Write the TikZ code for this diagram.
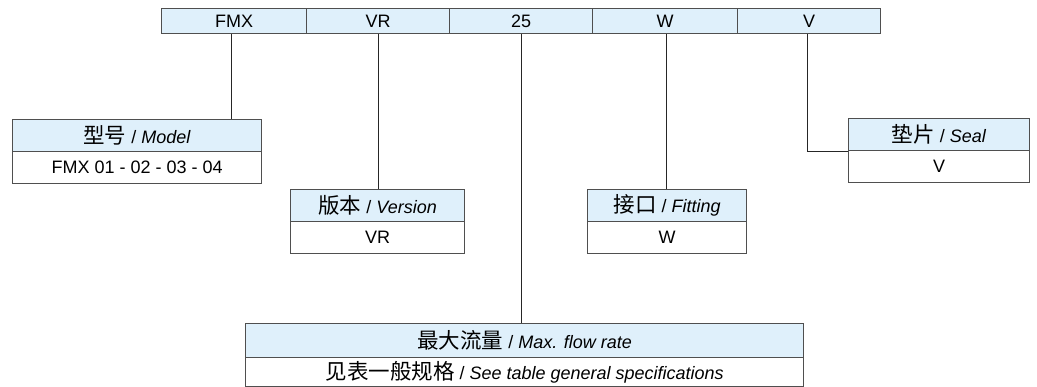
\documentclass[tikz,border=0pt]{standalone}
\usepackage{fontspec}
\setmainfont{Liberation Sans}
\newfontfamily\cjk{Noto Sans CJK SC}
\newcommand\zh[1]{{\cjk\fontsize{21.5bp}{23bp}\selectfont #1}}
\definecolor{cellblue}{HTML}{DFF0FB}
\definecolor{edge}{HTML}{4F4F4F}
\tikzset{
  cell/.style={draw=edge, line width=1.2bp, rectangle, inner sep=0pt, anchor=north west,
    font=\fontsize{18bp}{20bp}\selectfont, text=black},
  head/.style={cell, fill=cellblue},
  val/.style={cell, fill=white},
  conn/.style={draw=black!85, line width=1bp},
}
\begin{document}
\begin{tikzpicture}[x=1bp,y=-1bp]
\useasboundingbox (0,0) rectangle (1037,386);
% top code bar
\node[head, minimum width=145bp, minimum height=25bp] (fmx) at (161,8) {FMX};
\node[head, minimum width=143bp, minimum height=25bp] (vr) at (306,8) {VR};
\node[head, minimum width=143bp, minimum height=25bp] (n25) at (449,8) {25};
\node[head, minimum width=145bp, minimum height=25bp] (w) at (592,8) {W};
\node[head, minimum width=143bp, minimum height=25bp] (v) at (737,8) {V};
% model
\node[head, minimum width=249bp, minimum height=32bp] (modelh) at (12,119) {\zh{型号} / \textit{Model}};
\node[val, minimum width=249bp, minimum height=32bp] (modelv) at (12,151) {FMX 01 - 02 - 03 - 04};
% version
\node[head, minimum width=174bp, minimum height=32bp] (verh) at (290,189) {\zh{版本} / \textit{Version}};
\node[val, minimum width=174bp, minimum height=32bp] (verv) at (290,221) {VR};
% fitting
\node[head, minimum width=159bp, minimum height=32bp] (fith) at (587,189) {\zh{接口} / \textit{Fitting}};
\node[val, minimum width=159bp, minimum height=32bp] (fitv) at (587,221) {W};
% seal
\node[head, minimum width=181bp, minimum height=32bp] (sealh) at (848,118) {\zh{垫片} / \textit{Seal}};
\node[val, minimum width=181bp, minimum height=32bp] (sealv) at (848,150) {V};
% max flow
\node[head, minimum width=558bp, minimum height=34bp] (flowh) at (245,323) {\zh{最大流量} / \textit{Max. flow rate}};
\node[val, minimum width=558bp, minimum height=29bp] (flowv) at (245,357) {\zh{见表一般规格} / \textit{See table general specifications}};
% connectors
\draw[conn] ([xshift=-2.5bp]fmx.south) -- ([xshift=-2.5bp]fmx.south |- modelh.north);
\draw[conn] (vr.south) -- (vr.south |- verh.north);
\draw[conn] (n25.south) -- (n25.south |- flowh.north);
\draw[conn] ([xshift=1.5bp]w.south) -- ([xshift=1.5bp]w.south |- fith.north);
\draw[conn] ([xshift=-1.5bp]v.south) |- (sealh.south west);
\end{tikzpicture}
\end{document}
